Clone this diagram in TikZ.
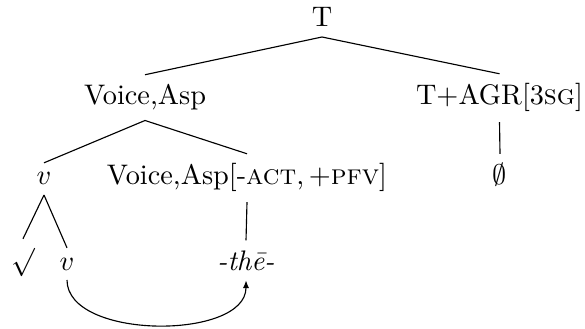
\documentclass[tikz,border=0pt]{standalone}
\usetikzlibrary{arrows.meta}
\begin{document}
\begin{tikzpicture}[x=0.3534pt,y=-0.3534pt,
  lbl/.style={anchor=base, inner sep=0.3333em},
  branch/.style={line width=0.4pt}]
\useasboundingbox (0,0) rectangle (585,329);
% nodes, placed on their baselines
\node[lbl] (T)   at (322,27)   {T};
\node[lbl] (VA)  at (145,105)  {Voice,Asp};
\node[lbl] (TA)  at (499.5,105) {T+AGR[3\textsc{sg}]};
\node[lbl] (v1)  at (44,185)   {$v$};
\node[lbl] (VAF) at (247,185)  {Voice,Asp[-\textsc{act},\,+\textsc{pfv}]};
\node[lbl] (E)   at (500,185)  {$\emptyset$};
\node[lbl] (R)   at (23,270)   {$\surd$};
\node[lbl] (v2)  at (67,270)   {$v$};
\node[lbl] (th)  at (246,270)  {\textit{-th\={e}-}};
% branches
\draw[branch] (T.south) -- (VA.north);
\draw[branch] (T.south) -- (TA.north);
\draw[branch] (VA.south) -- (v1.north);
\draw[branch] (VA.south) -- (VAF.north);
\draw[branch] (TA.south) -- (E.north);
\draw[branch] (v1.south) -- (R.north);
\draw[branch] (v1.south) -- (v2.north);
\draw[branch] (VAF.south) -- (th.north);
% movement arrow
\draw[branch,-{Latex[length=2.8pt,width=2.2pt]}] (v2.south) .. controls +(0,60) and +(0,60) .. (th.south);
\end{tikzpicture}
\end{document}
